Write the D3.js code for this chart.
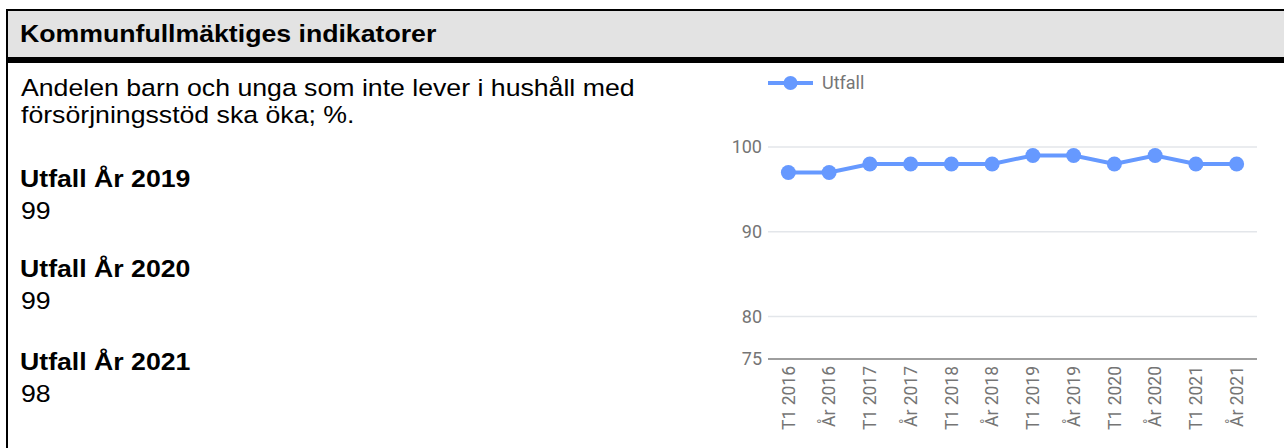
<!DOCTYPE html>
<html>
<head>
<meta charset="utf-8">
<script src="https://cdn.jsdelivr.net/npm/d3@7/dist/d3.min.js"></script>
<style>
  html, body { margin: 0; padding: 0; background: #fff; }
  svg { display: block; }
</style>
</head>
<body>
<svg id="chart" width="1284" height="448"></svg>
<script>
// ---- data ----
const title = "Kommunfullmäktiges indikatorer";
const descriptionLines = ["Andelen barn och unga som inte lever i hushåll med", "försörjningsstöd ska öka; %."];
const summaryLabels = ["Utfall År 2019", "Utfall År 2020", "Utfall År 2021"];
const summaryValues = ["99", "99", "98"];
const seriesName = "Utfall";
const categories = ["T1 2016", "År 2016", "T1 2017", "År 2017", "T1 2018", "År 2018",
                    "T1 2019", "År 2019", "T1 2020", "År 2020", "T1 2021", "År 2021"];
const values = [97, 97, 98, 98, 98, 98, 99, 99, 98, 99, 98, 98];
const yTicks = [75, 80, 90, 100];

// ---- layout ----
const svg = d3.select("#chart");
const lineColor = "#6699FF";
const bodyFont = "Liberation Sans, Arial, sans-serif";
const bodySize = 23.5;
const sx = 1.135;

function txt(x, y, s, bold) {
  return svg.append("text")
    .attr("transform", `translate(${x},${y}) scale(${sx},1)`)
    .attr("font-family", bodyFont).attr("font-size", bodySize)
    .attr("font-weight", bold ? "bold" : "normal")
    .attr("fill", "#000").text(s);
}

// header
svg.append("rect").attr("x", 7).attr("y", 10).attr("width", 1277).attr("height", 48).attr("fill", "#e3e3e3");
svg.append("rect").attr("x", 6).attr("y", 9).attr("width", 1278).attr("height", 2).attr("fill", "#000");
svg.append("rect").attr("x", 6).attr("y", 57).attr("width", 1278).attr("height", 6).attr("fill", "#000");
svg.append("rect").attr("x", 6).attr("y", 9).attr("width", 2).attr("height", 439).attr("fill", "#000");

txt(20, 42, title, true);

const lineY = [96, 123];
descriptionLines.forEach((t, i) => txt(21, lineY[i], t, false));
const headY = [187, 277, 370];
summaryLabels.forEach((t, i) => {
  txt(20, headY[i], t, true);
  txt(21, headY[i] + 31.5, summaryValues[i], false);
});

// chart
const plot = { left: 768, right: 1257, top: 147, bottom: 359 };
const x = d3.scaleBand().domain(categories).range([plot.left, plot.right]);
const y = d3.scaleLinear().domain([75, 100]).range([plot.bottom, plot.top]);

const g = svg.append("g");
g.selectAll("line.grid").data(yTicks.filter(d => d !== 75)).enter().append("line")
  .attr("x1", plot.left).attr("x2", plot.right)
  .attr("y1", d => y(d)).attr("y2", d => y(d))
  .attr("stroke", "#e3e6ea").attr("stroke-width", 1.5);
g.append("line").attr("x1", plot.left).attr("x2", plot.right)
  .attr("y1", y(75)).attr("y2", y(75)).attr("stroke", "#9e9e9e").attr("stroke-width", 2);

const yAxis = d3.axisLeft(y).tickValues(yTicks).tickSize(0).tickPadding(6);
const ya = svg.append("g").attr("transform", `translate(${plot.left},0)`).call(yAxis);
ya.select(".domain").remove();
ya.selectAll("text").attr("font-family", "Roboto, sans-serif").attr("font-size", 18).attr("fill", "#757575");

const xAxis = d3.axisBottom(x).tickSize(0).tickPadding(0);
const xa = svg.append("g").attr("transform", `translate(0,${plot.bottom})`).call(xAxis);
xa.select(".domain").remove();
xa.selectAll("text")
  .attr("font-family", "Roboto, sans-serif").attr("font-size", 17.5).attr("fill", "#757575")
  .attr("text-anchor", "end")
  .attr("transform", "rotate(-90)")
  .attr("x", -7).attr("y", 0).attr("dy", "0.35em");

const line = d3.line().x((d, i) => x(categories[i]) + x.bandwidth() / 2).y(d => y(d));
g.append("path").datum(values).attr("d", line).attr("fill", "none")
  .attr("stroke", lineColor).attr("stroke-width", 4);
g.selectAll("circle.pt").data(values).enter().append("circle")
  .attr("cx", (d, i) => x(categories[i]) + x.bandwidth() / 2)
  .attr("cy", d => y(d)).attr("r", 7.5).attr("fill", lineColor);

// legend
const lg = svg.append("g").attr("transform", "translate(768,83)");
lg.append("line").attr("x1", 0).attr("x2", 45).attr("y1", 0).attr("y2", 0)
  .attr("stroke", lineColor).attr("stroke-width", 4);
lg.append("circle").attr("cx", 22.5).attr("cy", 0).attr("r", 7).attr("fill", lineColor);
lg.append("text").attr("x", 54).attr("y", 0).attr("dy", "0.35em")
  .attr("font-family", "Roboto, sans-serif").attr("font-size", 18).attr("fill", "#757575").text(seriesName);
</script>
</body>
</html>
